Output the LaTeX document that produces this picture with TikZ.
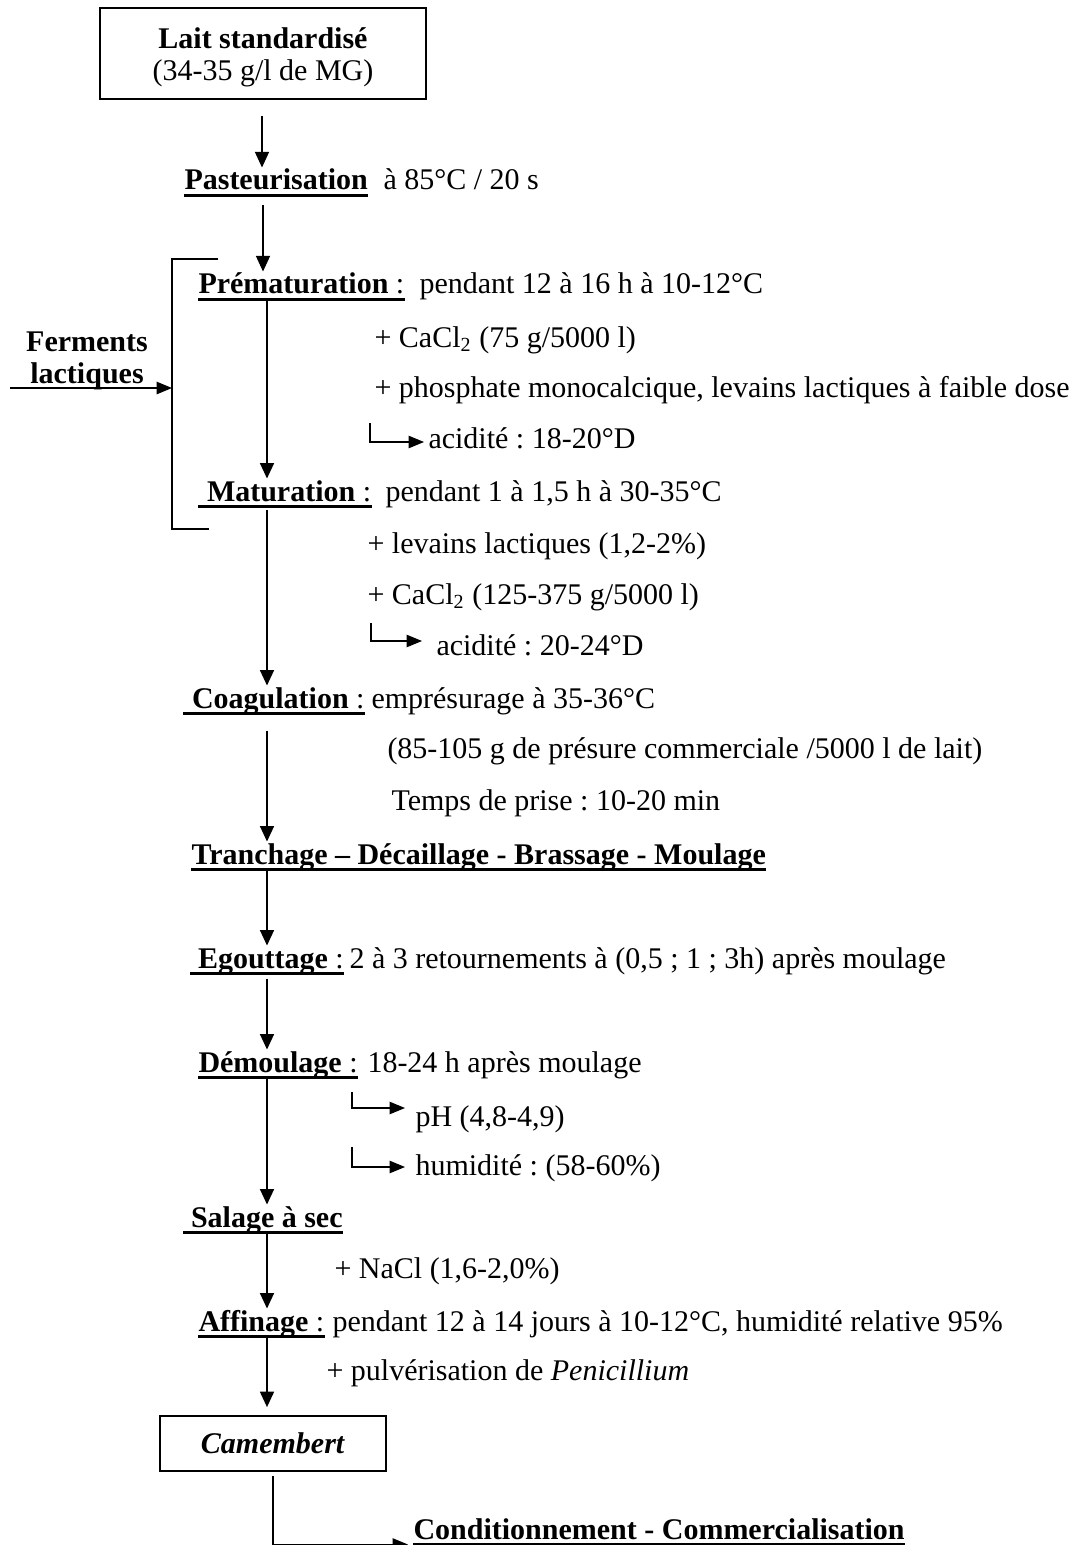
\documentclass[tikz,border=0pt,12pt]{standalone}
\usepackage{fontspec}
\setmainfont{Liberation Serif}
\usetikzlibrary{arrows.meta}
\frenchspacing
\begin{document}
\begin{tikzpicture}[x=0.4pt,y=-0.4pt,
  every node/.style={inner sep=0pt},
  desc/.style={anchor=base west},
  lbl/.style={anchor=base west, text height=8.8pt, text depth=2pt},
  ul/.style={line width=1.2pt},
  flow/.style={line width=0.7pt, -{Triangle[length=6.2pt,width=5.6pt]}},
  thinflow/.style={line width=0.45pt, -{Triangle[length=6.2pt,width=5.6pt]}},
  side/.style={line width=0.45pt, -{Triangle[length=6.2pt,width=5pt]}},
  stagebox/.style={draw, line width=0.7pt, align=center}
]
\useasboundingbox (0,0) rectangle (1075,1545);

% vertical spines of the main flow
\coordinate (xa) at (262,0);
\coordinate (xb) at (263,0);
\coordinate (xc) at (267,0);
\coordinate (xd) at (273,0);

% starting product
\node[stagebox, minimum width=130.4pt, minimum height=36.4pt,
      font=\fontsize{12}{12.8}\selectfont] (lait) at (263,53.5)
  {\rule{0pt}{11pt}\textbf{Lait standardisé}\\(34-35 g/l de MG)};

% pasteurisation
\node[lbl] (past) at (184,190) {\textbf{Pasteurisation}};
\draw[ul] (past.south west) -- (past.south east);
\node[desc] (pastd) at (383,190) {à 85°C / 20 s};

% prematuration
\node[lbl] (prem) at (198,294) {\textbf{Prématuration} :\ };
\draw[ul] (prem.south west) -- (prem.south east);
\node[desc] (premd) at (419,294) {pendant 12 à 16 h à 10-12°C};
\node[desc] (prem1) at (374,347) {+ CaCl\textsubscript{2} (75 g/5000 l)};
\node[desc] (prem2) at (374,397) {+ phosphate monocalcique, levains lactiques à faible dose};
\node[desc] (acid1) at (428,448) {acidité : 18-20°D};
\coordinate (e1) at (370,423);
\draw[side] (e1) |- ([xshift=-1.6pt]acid1.west |- 0,442);

% maturation
\node[lbl] (mat) at (198,501) {\hspace{3.4pt}\textbf{Maturation} :};
\draw[ul] (mat.south west) -- (mat.south east);
\node[desc] (matd) at (385,501) {pendant 1 à 1,5 h à 30-35°C};
\node[desc] (mat1) at (367,553) {+ levains lactiques (1,2-2\%)};
\node[desc] (mat2) at (367,604) {+ CaCl\textsubscript{2} (125-375 g/5000 l)};
\node[desc] (acid2) at (436,655) {acidité : 20-24°D};
\coordinate (e2) at (371,623);
\draw[side] (e2) |- ([xshift=-5.6pt]acid2.west |- 0,641);

% lactic starters added over both ripening stages
\coordinate (bk) at (172,0);
\coordinate (bt) at (218,259);
\coordinate (bb) at (209,529);
\draw[line width=0.55pt] (bt) -| (bk |- bb) -- (bb);
\node[font=\bfseries\fontsize{12}{12.8}\selectfont, align=center] (ferm) at (87,361)
  {Ferments\\lactiques};
\coordinate (fin) at (10,388);
\draw[side, line width=0.55pt] (fin) -- (fin -| bk);

% coagulation
\node[lbl] (coag) at (183,708) {\hspace{3.4pt}\textbf{Coagulation} :};
\draw[ul] (coag.south west) -- (coag.south east);
\node[desc] (coagd) at (371,708) {emprésurage à 35-36°C};
\node[desc] (coag1) at (387,758) {(85-105 g de présure commerciale /5000 l de lait)};
\node[desc] (coag2) at (391,810) {Temps de prise : 10-20 min};

% cutting and moulding
\node[lbl] (tran) at (191,864) {\textbf{Tranchage – Décaillage - Brassage - Moulage}};
\draw[ul] (tran.south west) -- (tran.south east);

% draining
\node[lbl] (egou) at (190,968) {\hspace{3pt}\textbf{Egouttage} :};
\draw[ul] (egou.south west) -- (egou.south east);
\node[desc] (egoud) at (349,968) {2 à 3 retournements à (0,5 ; 1 ; 3h) après moulage};

% demoulding
\node[lbl] (demo) at (198,1072) {\textbf{Démoulage} :\ };
\draw[ul] (demo.south west) -- (demo.south east);
\node[desc] (demod) at (367,1072) {18-24 h après moulage};
\node[desc] (ph) at (415,1126) {pH (4,8-4,9)};
\node[desc] (hum) at (415,1175) {humidité : (58-60\%)};
\coordinate (e3) at (352,1092);
\coordinate (e4) at (352,1147);
\draw[side] (e3) |- ([xshift=-4pt]ph.west |- 0,1108);
\draw[side] (e4) |- ([xshift=-4pt]hum.west |- 0,1167);

% salting
\node[lbl] (sal) at (183,1227) {\hspace{3pt}\textbf{Salage à sec}};
\draw[ul] (sal.south west) -- (sal.south east);
\node[desc] (sal1) at (334,1278) {+ NaCl (1,6-2,0\%)};

% ripening
\node[lbl] (aff) at (198,1331) {\textbf{Affinage} :};
\draw[ul] (aff.south west) -- (aff.south east);
\node[desc] (affd) at (332,1331) {pendant 12 à 14 jours à 10-12°C, humidité relative 95\%};
\node[desc] (aff1) at (326,1380) {+ pulvérisation de \textit{Penicillium}};

% final product
\node[stagebox, minimum width=90.4pt, minimum height=22pt] (cam) at (273,1443.5)
  {\textbf{\textit{Camembert}}};

\node[lbl] (cond) at (413,1539) {\textbf{Conditionnement - Commercialisation}};
\draw[ul] (cond.south west) -- (cond.south east);

% main flow
\draw[thinflow, shorten <=6.4pt] (lait.south -| xa) -- (past.north -| xa);
\draw[thinflow, shorten <=4pt] (past.south -| xb) -- (prem.north -| xb);
\draw[flow] (prem.south -| xc) -- (mat.north -| xc);
\draw[flow, shorten <=1.5pt] (mat.south -| xc) -- (coag.north -| xc);
\draw[flow, shorten <=6.8pt] (coag.south -| xc) -- (tran.north -| xc);
\draw[flow] (tran.south -| xc) -- (egou.north -| xc);
\draw[flow, shorten <=2pt] (egou.south -| xc) -- (demo.north -| xc);
\draw[flow] (demo.south -| xc) -- (sal.north -| xc);
\draw[flow] (sal.south -| xc) -- (aff.north -| xc);
\draw[flow, shorten >=3.2pt] (aff.south -| xc) -- (cam.north -| xc);
\draw[side, shorten <=1.6pt] (cam.south -| xd) |- ([xshift=-2pt]cond.south west);
\end{tikzpicture}
\end{document}
